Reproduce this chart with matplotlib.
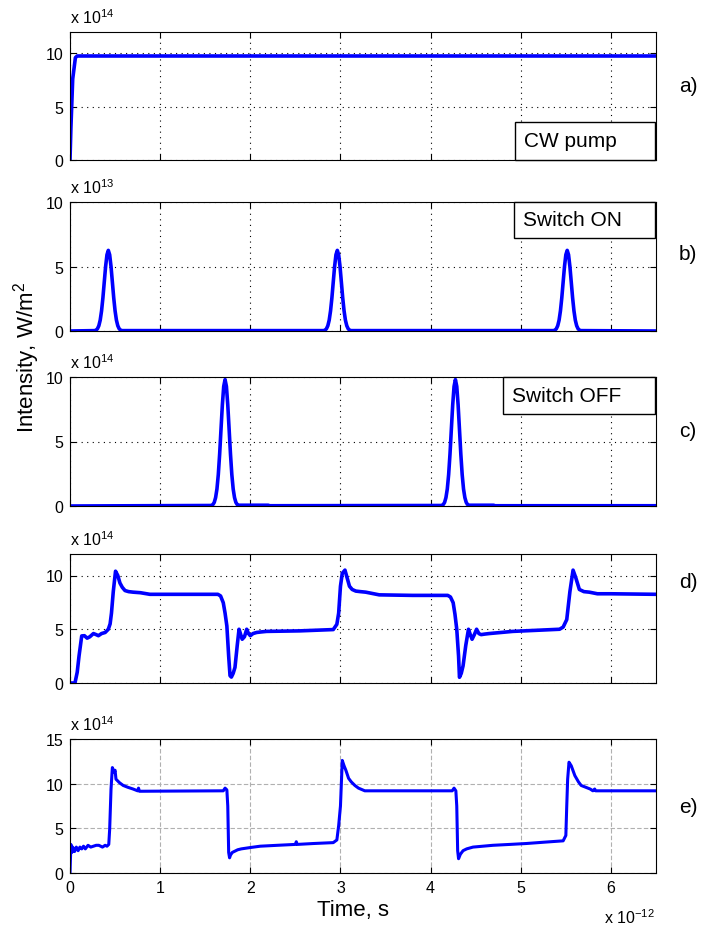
import matplotlib.pyplot as plt
from matplotlib.patches import Rectangle

plt.rcParams['font.family'] = ['Liberation Sans', 'DejaVu Sans']
plt.rcParams['mathtext.fontset'] = 'custom'
plt.rcParams['mathtext.rm'] = 'Liberation Sans'
plt.rcParams['mathtext.it'] = 'Liberation Sans'

# temps en 1e-12 s
a_t = [0, 0.01, 0.03, 0.06, 0.08, 6.5]
a_I = [0, 3.0, 7.6, 9.6, 9.75, 9.75]

b_t = [0,
       0.275, 0.29, 0.305, 0.32, 0.335, 0.35, 0.365, 0.38, 0.395, 0.41, 0.425,
       0.44, 0.455, 0.47, 0.485, 0.5, 0.515, 0.53, 0.545, 0.56, 0.575,
       2.815, 2.83, 2.845, 2.86, 2.875, 2.89, 2.905, 2.92, 2.935, 2.95, 2.965,
       2.98, 2.995, 3.01, 3.025, 3.04, 3.055, 3.07, 3.085, 3.1, 3.115,
       5.365, 5.38, 5.395, 5.41, 5.425, 5.44, 5.455, 5.47, 5.485, 5.5, 5.515,
       5.53, 5.545, 5.56, 5.575, 5.59, 5.605, 5.62, 5.635, 5.65, 5.665,
       6.5]
b_I = [0,
       0.03, 0.07, 0.18, 0.41, 0.84, 1.56, 2.57, 3.79, 5.0, 5.91, 6.25,
       5.91, 5.0, 3.79, 2.57, 1.56, 0.84, 0.41, 0.18, 0.07, 0.03,
       0.03, 0.07, 0.18, 0.41, 0.84, 1.56, 2.57, 3.79, 5.0, 5.91, 6.25,
       5.91, 5.0, 3.79, 2.57, 1.56, 0.84, 0.41, 0.18, 0.07, 0.03,
       0.03, 0.07, 0.18, 0.41, 0.84, 1.56, 2.57, 3.79, 5.0, 5.91, 6.25,
       5.91, 5.0, 3.79, 2.57, 1.56, 0.84, 0.41, 0.18, 0.07, 0.03,
       0]

c_t = [0,
       1.57, 1.585, 1.6, 1.615, 1.63, 1.645, 1.66, 1.675, 1.69, 1.705, 1.72,
       1.735, 1.75, 1.765, 1.78, 1.795, 1.81, 1.825, 1.84, 1.855, 1.87,
       2.2, 2.21,
       4.125, 4.14, 4.155, 4.17, 4.185, 4.2, 4.215, 4.23, 4.245, 4.26, 4.275,
       4.29, 4.305, 4.32, 4.335, 4.35, 4.365, 4.38, 4.395, 4.41, 4.425,
       4.7, 4.71, 6.5]
c_I = [0,
       0.04, 0.11, 0.28, 0.65, 1.32, 2.44, 4.03, 5.95, 7.84, 9.27, 9.8,
       9.27, 7.84, 5.95, 4.03, 2.44, 1.32, 0.65, 0.28, 0.11, 0.06,
       0.06, 0.02,
       0.04, 0.11, 0.28, 0.65, 1.32, 2.44, 4.03, 5.95, 7.84, 9.27, 9.8,
       9.27, 7.84, 5.95, 4.03, 2.44, 1.32, 0.65, 0.28, 0.11, 0.06,
       0.06, 0.02, 0.02]

d_t = [0, 0.055, 0.08, 0.10, 0.13, 0.16, 0.19, 0.22, 0.26, 0.29, 0.315, 0.35, 0.39, 0.425,
       0.445, 0.46, 0.48, 0.505, 0.53, 0.554, 0.58, 0.61, 0.65, 0.70, 0.78, 0.886, 1.07,
       1.64, 1.67, 1.70, 1.72, 1.74, 1.76, 1.775, 1.79, 1.81, 1.83, 1.855, 1.875, 1.89,
       1.91, 1.935, 1.96, 1.98, 2.0, 2.03, 2.07, 2.12, 2.18, 2.55, 2.92, 2.96, 2.98, 3.00,
       3.02, 3.05, 3.08, 3.10, 3.13, 3.17, 3.22, 3.28, 3.43, 3.80, 4.19, 4.22, 4.25, 4.27,
       4.29, 4.31, 4.32, 4.34, 4.36, 4.39, 4.42, 4.44, 4.46, 4.485, 4.51, 4.535, 4.56, 4.60,
       4.65, 4.91, 5.43, 5.47, 5.51, 5.545, 5.58, 5.61, 5.65, 5.70, 5.76, 5.85, 6.0, 6.5]
d_I = [0, 0, 1.0, 2.5, 4.38, 4.4, 4.17, 4.3, 4.6, 4.5, 4.4, 4.6, 4.7, 5.0,
       5.5, 6.5, 8.5, 10.4, 10.0, 9.3, 8.9, 8.6, 8.5, 8.45, 8.4, 8.25, 8.25,
       8.25, 8.1, 7.47, 6.5, 5.3, 2.5, 0.68, 0.55, 0.9, 1.45, 3.5, 5.0, 4.6,
       4.07, 4.3, 5.0, 4.6, 4.4, 4.6, 4.7, 4.75, 4.8, 4.85, 4.97, 5.46, 6.5, 9.0,
       10.2, 10.5, 9.6, 9.0, 8.7, 8.55, 8.5, 8.45, 8.2, 8.15, 8.15, 8.0, 7.47, 6.4,
       5.0, 2.5, 0.53, 0.9, 1.6, 3.5, 5.0, 4.5, 4.07, 4.5, 5.0, 4.6, 4.5, 4.55,
       4.6, 4.8, 5.0, 5.2, 5.9, 8.5, 10.5, 9.8, 8.7, 8.5, 8.45, 8.3, 8.3, 8.25]

e_t = [0, 0.01, 0.02, 0.03, 0.05, 0.07, 0.09, 0.11, 0.13, 0.15, 0.17, 0.20, 0.23, 0.26,
       0.29, 0.32, 0.36, 0.39, 0.41, 0.43, 0.44, 0.455, 0.47, 0.49, 0.50, 0.51, 0.55, 0.59,
       0.64, 0.70, 0.75, 0.76, 0.77, 1.70, 1.72, 1.74, 1.75, 1.76, 1.77, 1.78, 1.80, 1.82,
       1.86, 1.90, 2.0, 2.11, 2.3, 2.5, 2.51, 2.52, 2.7, 2.92, 2.96, 2.98, 3.0, 3.02, 3.04,
       3.06, 3.09, 3.12, 3.16, 3.2, 3.27, 4.24, 4.26, 4.28, 4.29, 4.30, 4.31, 4.33, 4.36,
       4.40, 4.47, 4.58, 4.69, 4.88, 5.06, 5.26, 5.47, 5.50, 5.51, 5.52, 5.535, 5.56, 5.60,
       5.64, 5.67, 5.72, 5.77, 5.80, 5.82, 5.83, 6.5]
e_I = [0, 3.2, 2.3, 2.9, 2.4, 2.9, 2.5, 2.9, 2.7, 3.0, 2.7, 3.1, 2.9, 3.0,
       3.1, 3.1, 2.9, 3.1, 3.0, 3.2, 4.9, 9.4, 11.8, 11.3, 11.5, 10.5, 10.1, 9.8,
       9.6, 9.4, 9.2, 9.5, 9.15, 9.2, 9.5, 9.3, 7.5, 2.3, 1.7, 2.0, 2.3, 2.4,
       2.6, 2.7, 2.85, 3.0, 3.1, 3.2, 3.5, 3.2, 3.3, 3.4, 3.7, 5.3, 7.5, 12.6, 12.0,
       11.5, 10.6, 10.2, 9.8, 9.5, 9.2, 9.2, 9.5, 9.2, 7.5, 2.5, 1.6, 2.1, 2.5,
       2.7, 2.9, 3.0, 3.1, 3.2, 3.3, 3.45, 3.6, 4.2, 7.5, 10.5, 12.4, 12.0, 10.9,
       10.2, 9.8, 9.6, 9.4, 9.2, 9.4, 9.2, 9.2]

series = [(a_t, a_I), (b_t, b_I), (c_t, c_I), (d_t, d_I), (e_t, e_I)]
y_max = [12, 10, 10, 12, 15]
y_ticks = [[0, 5, 10], [0, 5, 10], [0, 5, 10], [0, 5, 10], [0, 5, 10, 15]]
exposants = ['14', '13', '14', '14', '14']
etiquettes = ['a)', 'b)', 'c)', 'd)', 'e)']
legendes = ['CW pump', 'Switch ON', 'Switch OFF', None, None]
x_ticks = [0, 1, 2, 3, 4, 5, 6]

W, H = 702, 928
fig = plt.figure(figsize=(W / 100, H / 100), dpi=100)

# positions en pixels (haut, bas) de chaque axe
cadres = [(33, 161), (203, 332), (378, 507), (555, 684), (740, 874)]
pos_etiquettes = [87, 255, 432, 582, 808]
boites = [(0.76, 0.0, 0.297, 0.15), (0.758, 0.718, 0.282, 0.866),
          (0.739, 0.714, 0.286, 0.857)]
gauche, droite = 70, 656

for i, (t, I) in enumerate(series):
    haut, bas = cadres[i]
    ax = fig.add_axes([gauche / W, 1 - bas / H, (droite - gauche) / W, (bas - haut) / H])
    ax.plot(t, I, color='#0000ff', lw=2.6 if i < 4 else 2.2, solid_joinstyle='round')
    ax.set_xlim(0, 6.5)
    ax.set_ylim(0, y_max[i])
    ax.set_xticks(x_ticks)
    ax.set_yticks(y_ticks[i])
    if i < 4:
        ax.grid(True, color='k', linestyle=(0, (1, 4)), lw=0.8)
    else:
        ax.grid(True, color='#b0b0b0', linestyle=(0, (4, 2)), lw=0.8)
    ax.tick_params(direction='in', top=True, right=True, length=4, width=0.8,
                   labelsize=11.5, pad=5)
    if i < 4:
        ax.set_xticklabels([])
    for s in ax.spines.values():
        s.set_linewidth(0.8)
    ax.annotate('x 10$^{' + exposants[i] + '}$', xy=(0, 1), xycoords='axes fraction',
                xytext=(0, 4), textcoords='offset points', fontsize=11.5,
                ha='left', va='bottom')
    if legendes[i]:
        x0, y0, hb, ty = boites[i]
        ax.add_patch(Rectangle((x0, y0), 0.998 - x0, hb, transform=ax.transAxes,
                               facecolor='white', edgecolor='k', lw=1.0, zorder=5,
                               clip_on=False))
        ax.text(x0 + 0.015, ty, legendes[i], transform=ax.transAxes, fontsize=15,
                va='center', ha='left', zorder=6)
    fig.text(679 / W, 1 - pos_etiquettes[i] / H, etiquettes[i], fontsize=15,
             ha='left', va='center')

fig.text(353 / W, 1 - 911 / H, 'Time, s', fontsize=16, ha='center', va='center')
fig.text(655 / W, 1 - 918 / H, 'x 10$^{-12}$', fontsize=11.5, ha='right', va='center')
fig.text(27 / W, 1 - 357 / H, 'Intensity, W/m$^2$', fontsize=16, rotation=90,
         ha='center', va='center')

plt.savefig('out.png', dpi=100)
